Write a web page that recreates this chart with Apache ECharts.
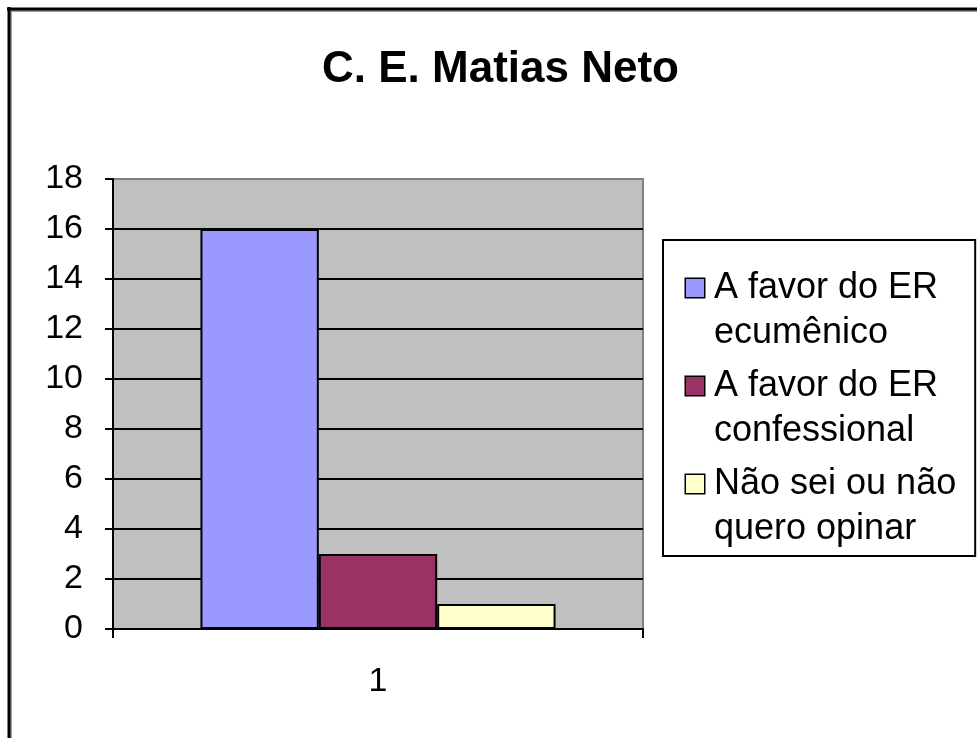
<!DOCTYPE html>
<html>
<head>
<meta charset="utf-8">
<script src="https://cdn.jsdelivr.net/npm/echarts@6/dist/echarts.min.js"></script>
<style>
html, body { margin: 0; padding: 0; background: #fff; }
#chart { width: 977px; height: 738px; }
</style>
</head>
<body>
<div id="chart"></div>
<script>
// data
const categories = ['1'];
const seriesNames = ['A favor do ER ecumênico', 'A favor do ER confessional', 'Não sei ou não quero opinar'];
const legendLines = [['A favor do ER', 'ecumênico'], ['A favor do ER', 'confessional'], ['Não sei ou não', 'quero opinar']];
const ecumenico = [16];
const confessional = [3];
const naoSei = [1];
const colors = ['#9999ff', '#993366', '#ffffcc'];

const font = '"Liberation Sans", Arial, sans-serif';
const chart = echarts.init(document.getElementById('chart'));

let rich = {
    gap: { width: 10 },
    ind: { width: 28 },
    t: { fontSize: 36, lineHeight: 45, color: '#000', fontFamily: font }
};
colors.forEach((c, i) => {
    rich['box' + i] = { width: 18, height: 18, backgroundColor: c, borderColor: '#000', borderWidth: 1.5 };
});

const seriesData = [ecumenico, confessional, naoSei];

let options = {
    animation: false,
    backgroundColor: '#fff',
    color: colors,
    title: {
        text: 'C. E. Matias Neto',
        left: 317,
        top: 43,
        textStyle: { fontSize: 44, fontWeight: 'bold', color: '#000', fontFamily: font }
    },
    grid: {
        left: 113,
        right: 334,
        top: 179,
        bottom: 109,
        show: true,
        backgroundColor: '#c0c0c0',
        borderColor: '#808080',
        borderWidth: 2
    },
    legend: {
        orient: 'vertical',
        left: 663,
        top: 240,
        padding: [30, 19, 9, 17],
        itemGap: 17,
        itemWidth: 0,
        itemHeight: 0,
        icon: 'rect',
        borderColor: '#000',
        borderWidth: 2,
        backgroundColor: '#fff',
        data: seriesNames,
        formatter: function (name) {
            let i = seriesNames.indexOf(name);
            return '{box' + i + '|}{gap|}{t|' + legendLines[i][0] + '}\n{ind|}{t|' + legendLines[i][1] + '}';
        },
        textStyle: { rich: rich }
    },
    xAxis: {
        type: 'category',
        data: categories,
        axisLine: { lineStyle: { color: '#000', width: 2 } },
        axisTick: { show: true, length: 9, lineStyle: { color: '#000', width: 2 } },
        axisLabel: { margin: 36, fontSize: 34, color: '#000', fontFamily: font }
    },
    yAxis: {
        type: 'value',
        min: 0,
        max: 18,
        interval: 2,
        axisLine: { show: true, lineStyle: { color: '#000', width: 2 } },
        axisTick: { show: true, length: 8, lineStyle: { color: '#000', width: 2 } },
        axisLabel: { margin: 30, fontSize: 34, color: '#000', fontFamily: font },
        splitLine: {
            lineStyle: {
                color: ['#000', '#000', '#000', '#000', '#000', '#000', '#000', '#000', '#000', '#808080'],
                width: 2
            }
        }
    },
    series: seriesNames.map((name, i) => ({
        name: name,
        type: 'bar',
        barGap: 0,
        barCategoryGap: '33%',
        data: seriesData[i],
        itemStyle: { borderColor: '#000', borderWidth: 2 }
    })),
    graphic: [
        { type: 'line', shape: { x1: 9, y1: 11, x2: 977, y2: 11 }, style: { stroke: '#999', lineWidth: 2 } },
        { type: 'line', shape: { x1: 11, y1: 9, x2: 11, y2: 738 }, style: { stroke: '#999', lineWidth: 2 } },
        { type: 'line', shape: { x1: 7, y1: 9, x2: 977, y2: 9 }, style: { stroke: '#000', lineWidth: 3 } },
        { type: 'line', shape: { x1: 9, y1: 7, x2: 9, y2: 738 }, style: { stroke: '#000', lineWidth: 3 } }
    ]
};

chart.setOption(options);
window.addEventListener('resize', () => {
    chart.resize();
});
</script>
</body>
</html>
